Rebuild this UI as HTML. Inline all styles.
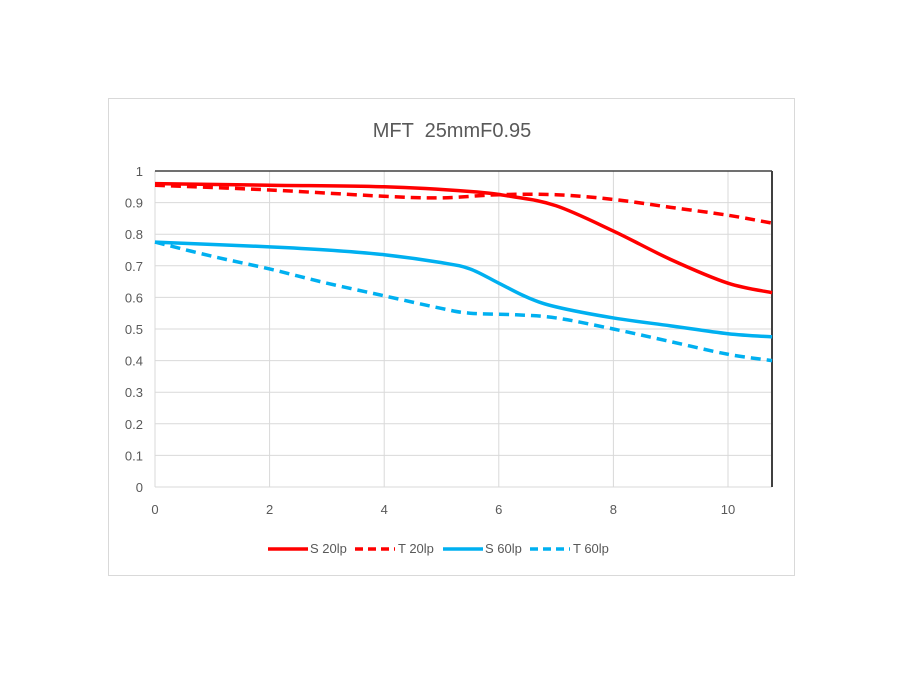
<!DOCTYPE html>
<html><head><meta charset="utf-8"><style>
body{margin:0;background:#fff;width:900px;height:674px;overflow:hidden;font-family:"Liberation Sans",sans-serif}
</style></head><body>
<svg id="s" width="900" height="674" xmlns="http://www.w3.org/2000/svg" font-family="Liberation Sans, sans-serif">
<rect x="108.5" y="98.5" width="686" height="477" fill="#fff" stroke="#d9d9d9"/>
<text x="452" y="137" font-size="20" fill="#595959" text-anchor="middle" xml:space="preserve" style="white-space:pre">MFT  25mmF0.95</text>
<g id="grid"></g>
<g id="lines"></g>
<g font-size="13" fill="#595959">
<line x1="268" y1="549" x2="308" y2="549" stroke="#f00" stroke-width="3.5"/><text x="310" y="553">S 20lp</text>
<line x1="355" y1="549" x2="395" y2="549" stroke="#f00" stroke-width="3.5" stroke-dasharray="8,5"/><text x="398" y="553">T 20lp</text>
<line x1="443" y1="549" x2="483" y2="549" stroke="#00b0f0" stroke-width="3.5"/><text x="485" y="553">S 60lp</text>
<line x1="530" y1="549" x2="570" y2="549" stroke="#00b0f0" stroke-width="3.5" stroke-dasharray="8,5"/><text x="573" y="553">T 60lp</text>
</g>
</svg>
<script>
const X=v=>155+v*57.3, Y=v=>487-v*316;
let g='';
for(let i=0;i<=10;i++){const y=Y(i/10);g+=`<line x1="155" x2="772" y1="${y}" y2="${y}" stroke="#d9d9d9"/>`;
g+=`<text x="143" y="${y+5}" font-size="13" fill="#595959" text-anchor="end">${i==10?1:i==0?0:(i/10)}</text>`;}
for(let i=0;i<=10;i+=2){const x=X(i);g+=`<line x1="${x}" x2="${x}" y1="171" y2="487" stroke="#d9d9d9"/>`;
g+=`<text x="${x}" y="514" font-size="13" fill="#595959" text-anchor="middle">${i}</text>`;}
g+=`<line x1="155" x2="772" y1="171" y2="171" stroke="#404040" stroke-width="1.5"/>`;
g+=`<line x1="772" x2="772" y1="171" y2="487" stroke="#404040" stroke-width="2"/>`;
document.getElementById('grid').innerHTML=g;
const data=[
['#f00','',[[0,0.96],[2,0.955],[4,0.95],[5.5,0.935],[6.2,0.92],[7,0.89],[8,0.81],[9,0.72],[10,0.645],[10.77,0.615]]],
['#f00','10,6',[[0,0.955],[2,0.94],[4,0.92],[5,0.915],[6,0.925],[7,0.925],[8,0.91],[9,0.885],[10,0.86],[10.77,0.835]]],
['#00b0f0','',[[0,0.775],[2,0.76],[3,0.75],[4,0.735],[5,0.71],[5.5,0.69],[6,0.645],[6.5,0.6],[7,0.57],[8,0.535],[9,0.51],[10,0.485],[10.77,0.475]]],
['#00b0f0','10,6',[[0,0.775],[1,0.73],[2,0.69],[3,0.645],[4,0.605],[5,0.565],[5.5,0.55],[6.3,0.545],[7,0.535],[8,0.5],[9,0.46],[10,0.42],[10.77,0.4]]]];
let l='';
for(const [c,d,p] of data){
 const pts=p.map(q=>[X(q[0]),Y(q[1])]);
 let s=`M${pts[0][0]},${pts[0][1]}`;
 for(let i=0;i<pts.length-1;i++){const p0=pts[Math.max(0,i-1)],p1=pts[i],p2=pts[i+1],p3=pts[Math.min(pts.length-1,i+2)];
  const c1=[p1[0]+(p2[0]-p0[0])/6,p1[1]+(p2[1]-p0[1])/6],c2=[p2[0]-(p3[0]-p1[0])/6,p2[1]-(p3[1]-p1[1])/6];
  s+=` C${c1[0]},${c1[1]} ${c2[0]},${c2[1]} ${p2[0]},${p2[1]}`;}
 l+=`<path d="${s}" fill="none" stroke="${c}" stroke-width="3.5" ${d?`stroke-dasharray="${d}"`:''}/>`;
}
document.getElementById('lines').innerHTML=l;
</script>
</body></html>
